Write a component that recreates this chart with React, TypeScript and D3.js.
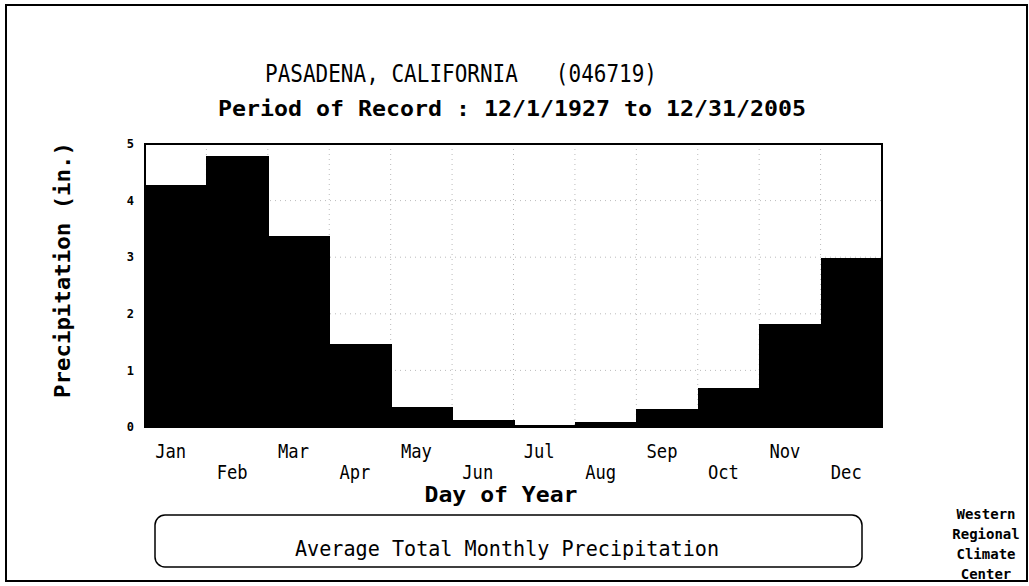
import * as d3 from 'd3';
import { useEffect, useRef } from 'react';

const months = ['Jan', 'Feb', 'Mar', 'Apr', 'May', 'Jun', 'Jul', 'Aug', 'Sep', 'Oct', 'Nov', 'Dec'];
const precip = [4.27, 4.79, 3.37, 1.47, 0.35, 0.12, 0.03, 0.09, 0.32, 0.69, 1.82, 2.98];
const yTicks = [0, 1, 2, 3, 4, 5];
const wrcc = ['Western', 'Regional', 'Climate', 'Center'];

const App = () => {
  const svgRef = useRef<SVGSVGElement>(null);
  const width = 1029, height = 586;
  const plot = { left: 145, right: 882, top: 144, bottom: 427 };
  const mono = '"DejaVu Sans Mono", "Liberation Mono", monospace';

  useEffect(() => {
    const svg = d3.select(svgRef.current);
    svg.selectAll('*').remove();

    const x = d3.scaleBand().domain(months).range([plot.left, plot.right]).padding(0);
    const y = d3.scaleLinear().domain([0, 5]).range([plot.bottom, plot.top]);

    svg.append('rect').attr('width', width).attr('height', height).attr('fill', '#fff');
    // outer frame
    svg.append('rect')
      .attr('x', 6).attr('y', 5).attr('width', 1021).attr('height', 576)
      .attr('fill', 'none').attr('stroke', '#000').attr('stroke-width', 2);

    // titles
    svg.append('text').attr('x', 265).attr('y', 82)
      .attr('font-family', mono).attr('font-size', 25)
      .attr('textLength', 392).attr('lengthAdjust', 'spacingAndGlyphs')
      .attr('xml:space', 'preserve')
      .text('PASADENA, CALIFORNIA   (046719)');
    svg.append('text').attr('x', 218).attr('y', 116)
      .attr('font-family', mono).attr('font-size', 21).attr('font-weight', 'bold')
      .attr('textLength', 588).attr('lengthAdjust', 'spacingAndGlyphs')
      .text('Period of Record : 12/1/1927 to 12/31/2005');

    // gridlines
    const grid = svg.append('g').attr('stroke', '#bbb').attr('stroke-dasharray', '1,4').attr('stroke-width', 1);
    yTicks.slice(1, -1).forEach(t => {
      grid.append('line').attr('x1', plot.left).attr('x2', plot.right).attr('y1', y(t)).attr('y2', y(t));
    });
    months.slice(1).forEach(m => {
      grid.append('line').attr('x1', x(m)!).attr('x2', x(m)!).attr('y1', plot.top).attr('y2', plot.bottom);
    });

    // bars
    svg.append('g').attr('shape-rendering', 'crispEdges')
      .selectAll('rect').data(months).join('rect')
      .attr('x', d => x(d)!)
      .attr('y', (d, i) => y(precip[i]))
      .attr('width', x.bandwidth() + 1)
      .attr('height', (d, i) => y(0) - y(precip[i]))
      .attr('fill', '#000');

    // plot frame
    svg.append('rect')
      .attr('x', plot.left).attr('y', plot.top)
      .attr('width', plot.right - plot.left).attr('height', plot.bottom - plot.top)
      .attr('fill', 'none').attr('stroke', '#000').attr('stroke-width', 2);

    // y ticks
    svg.append('g').selectAll('text').data(yTicks).join('text')
      .attr('x', 134).attr('y', d => y(d)).attr('dy', '0.35em')
      .attr('text-anchor', 'end')
      .attr('font-family', mono).attr('font-size', 12).attr('font-weight', 'bold')
      .text(d => d);

    // y label
    svg.append('text')
      .attr('transform', 'translate(70,270) rotate(-90)')
      .attr('text-anchor', 'middle')
      .attr('font-family', mono).attr('font-size', 21).attr('font-weight', 'bold')
      .attr('textLength', 256).attr('lengthAdjust', 'spacingAndGlyphs')
      .text('Precipitation (in.)');

    // month labels, staggered
    svg.append('g').selectAll('text').data(months).join('text')
      .attr('x', d => x(d)! + x.bandwidth() / 2 - 5)
      .attr('y', (d, i) => i % 2 === 0 ? 458 : 479)
      .attr('text-anchor', 'middle')
      .attr('font-family', mono).attr('font-size', 19)
      .attr('textLength', 31).attr('lengthAdjust', 'spacingAndGlyphs')
      .text(d => d);

    svg.append('text').attr('x', 501).attr('y', 502)
      .attr('text-anchor', 'middle')
      .attr('font-family', mono).attr('font-size', 21).attr('font-weight', 'bold')
      .attr('textLength', 153).attr('lengthAdjust', 'spacingAndGlyphs')
      .text('Day of Year');

    // legend box
    svg.append('rect')
      .attr('x', 155).attr('y', 515).attr('width', 707).attr('height', 52).attr('rx', 10)
      .attr('fill', 'none').attr('stroke', '#000').attr('stroke-width', 1.5);
    svg.append('text').attr('x', 507).attr('y', 556)
      .attr('text-anchor', 'middle')
      .attr('font-family', mono).attr('font-size', 21)
      .attr('textLength', 424).attr('lengthAdjust', 'spacingAndGlyphs')
      .text('Average Total Monthly Precipitation');

    svg.append('g').selectAll('text').data(wrcc).join('text')
      .attr('x', 986).attr('y', (d, i) => 519 + i * 20)
      .attr('text-anchor', 'middle')
      .attr('font-family', mono).attr('font-size', 14).attr('font-weight', 'bold')
      .text(d => d);
  }, []);

  return (
    <svg ref={svgRef} width={width} height={height}
      style={{ position: 'absolute', left: 0, top: 0, display: 'block' }} />
  );
};

export default App;
